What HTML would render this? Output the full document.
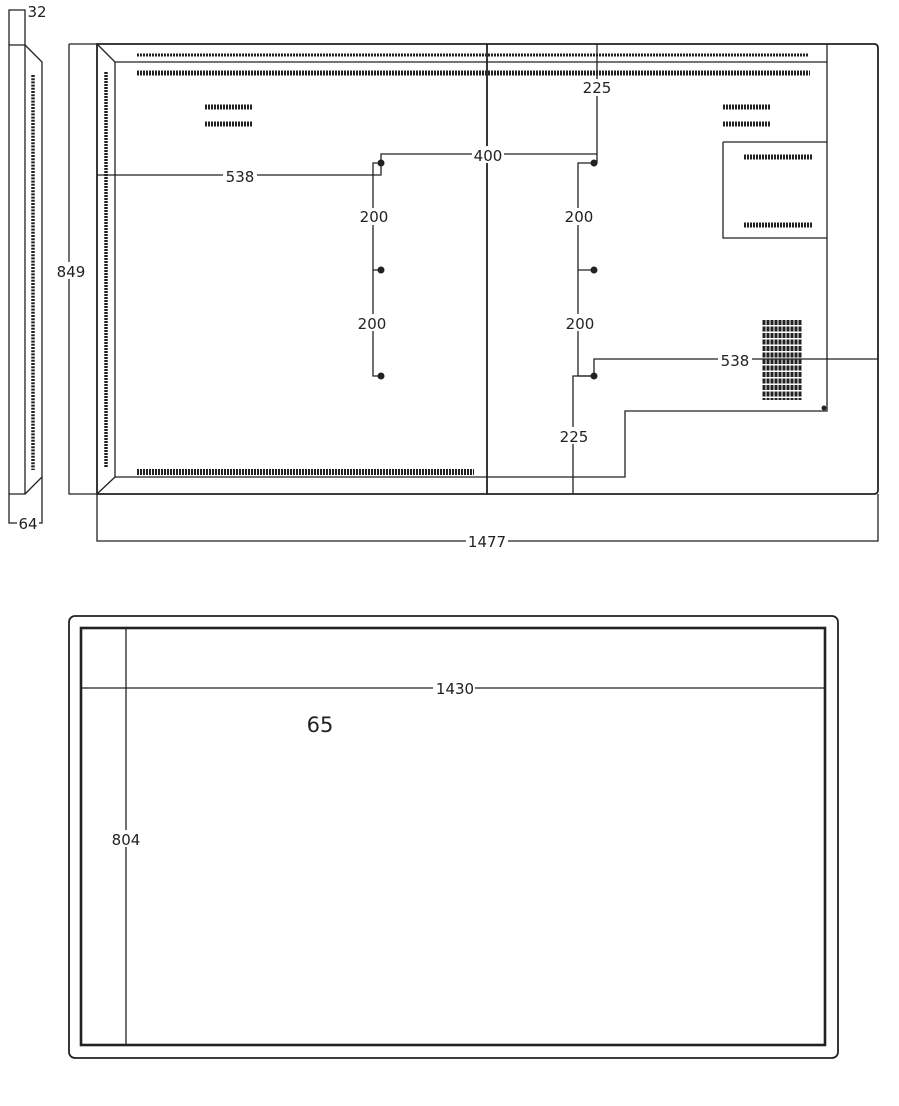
<!DOCTYPE html>
<html><head><meta charset="utf-8"><style>
html,body{margin:0;padding:0;background:#fff;}
svg{display:block;}
text{font-family:"DejaVu Sans","Liberation Sans",sans-serif;font-size:15px;fill:#222;}
</style></head><body>
<svg width="899" height="1106" viewBox="0 0 899 1106" xmlns="http://www.w3.org/2000/svg">
<g fill="none" stroke="#222" stroke-width="1.3">
<!-- side view -->
<path d="M9 45 H25 V494 H9 Z"/>
<path d="M25 45 L42 62 V477 L25 494"/>
<path d="M9 45 V10 H25 V45"/>
<path d="M9 494 V523 H42 V477"/>
<line x1="33" y1="75" x2="33" y2="470" stroke-width="3.5" stroke-dasharray="2 1.2"/>
<!-- main view -->
<path d="M97 44 H874 Q878 44 878 48 V490 Q878 494 874 494 H97 Z" stroke-width="1.8"/>
<path d="M69 44 H97 M69 44 V494 H97"/>
<path d="M97 44 L115 62 V477 M97 494 L115 477"/>
<path d="M115 62 H827 M827 44 V411 H625 V477 H115"/>
<circle cx="824" cy="408" r="1.8" fill="#222"/>
<path d="M723 142 H827 M723 142 V238 H827"/>
<line x1="487" y1="44" x2="487" y2="494" stroke-width="1.8"/>
<path d="M597 44 V163"/>
<path d="M381 163 V154 H597"/>
<path d="M97 175 H381 V163"/>
<path d="M381 163 H373 V376 H381 M373 270 H381"/>
<path d="M594 163 H578 V376 H594 M578 270 H594"/>
<path d="M594 376 V359 H878"/>
<path d="M573 494 V376 H594"/>
<path d="M97 494 V541 H878 V494"/>
<g fill="#222" stroke="none">
<circle cx="381" cy="163" r="3.5"/><circle cx="381" cy="270" r="3.5"/><circle cx="381" cy="376" r="3.5"/>
<circle cx="594" cy="163" r="3.5"/><circle cx="594" cy="270" r="3.5"/><circle cx="594" cy="376" r="3.5"/>
</g>
<!-- vents -->
<g stroke-dasharray="2 1">
<line x1="137" y1="55" x2="808" y2="55" stroke-width="3"/>
<line x1="137" y1="73" x2="810" y2="73" stroke-width="5"/>
<line x1="205" y1="107" x2="253" y2="107" stroke-width="5"/>
<line x1="205" y1="124" x2="253" y2="124" stroke-width="5"/>
<line x1="723" y1="107" x2="771" y2="107" stroke-width="5"/>
<line x1="723" y1="124" x2="771" y2="124" stroke-width="5"/>
<line x1="744" y1="157" x2="813" y2="157" stroke-width="5"/>
<line x1="744" y1="225" x2="813" y2="225" stroke-width="5"/>
<line x1="137" y1="472" x2="474" y2="472" stroke-width="6"/>
<line x1="106" y1="72" x2="106" y2="468" stroke-width="3.5"/>
</g>
<g stroke-width="3" stroke-dasharray="5 1.5">
<line x1="764" y1="320" x2="764" y2="400"/>
<line x1="768" y1="320" x2="768" y2="400"/>
<line x1="772" y1="320" x2="772" y2="400"/>
<line x1="776" y1="320" x2="776" y2="400"/>
<line x1="780" y1="320" x2="780" y2="400"/>
<line x1="784" y1="320" x2="784" y2="400"/>
<line x1="788" y1="320" x2="788" y2="400"/>
<line x1="792" y1="320" x2="792" y2="400"/>
<line x1="796" y1="320" x2="796" y2="400"/>
<line x1="800" y1="320" x2="800" y2="400"/>
</g>
<!-- bottom view -->
<rect x="69" y="616" width="769" height="442" rx="6" stroke-width="1.8"/>
<rect x="81" y="628" width="744" height="417" stroke-width="2.6"/>
<path d="M81 688 H825 M126 628 V1045"/>
</g>
<g text-anchor="middle">
<rect x="27" y="3" width="20" height="16" fill="#fff"/><text x="37" y="17">32</text>
<rect x="17" y="515" width="22" height="16" fill="#fff"/><text x="28" y="529">64</text>
<rect x="56" y="262" width="30" height="17" fill="#fff"/><text x="71" y="277">849</text>
<rect x="223" y="167" width="34" height="17" fill="#fff"/><text x="240" y="182">538</text>
<rect x="472" y="146" width="32" height="17" fill="#fff"/><text x="488" y="161">400</text>
<rect x="580" y="79" width="34" height="17" fill="#fff"/><text x="597" y="93">225</text>
<rect x="358" y="208" width="32" height="17" fill="#fff"/><text x="374" y="222">200</text>
<rect x="356" y="314" width="32" height="17" fill="#fff"/><text x="372" y="329">200</text>
<rect x="563" y="208" width="32" height="17" fill="#fff"/><text x="579" y="222">200</text>
<rect x="564" y="314" width="32" height="17" fill="#fff"/><text x="580" y="329">200</text>
<rect x="718" y="351" width="34" height="17" fill="#fff"/><text x="735" y="366">538</text>
<rect x="557" y="427" width="34" height="17" fill="#fff"/><text x="574" y="442">225</text>
<rect x="466" y="533" width="42" height="17" fill="#fff"/><text x="487" y="547">1477</text>
<rect x="433" y="680" width="42" height="17" fill="#fff"/><text x="455" y="694">1430</text>
<rect x="110" y="830" width="32" height="17" fill="#fff"/><text x="126" y="845">804</text>
<text x="320" y="732" style="font-size:21px">65</text>
</g>
</svg>
</body></html>
